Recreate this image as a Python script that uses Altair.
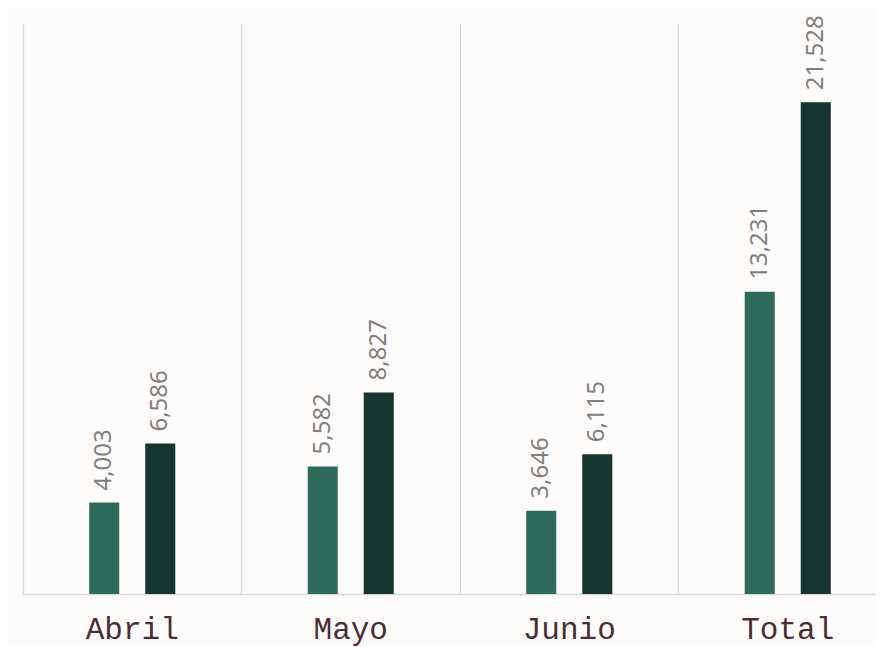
import altair as alt
import pandas as pd

months = ["Abril", "Mayo", "Junio", "Total"]
serie_a = [4003, 5582, 3646, 13231]
serie_b = [6586, 8827, 6115, 21528]
series_names = ["Serie A", "Serie B"]
offset_domain = ["_vacía1", "Serie A", "Serie B", "_vacía2"]
colors = ["#2e6b5b", "#15352e"]

rows = []
for m, a, b in zip(months, serie_a, serie_b):
    rows.append({"mes": m, "serie": series_names[0], "valor": a})
    rows.append({"mes": m, "serie": series_names[1], "valor": b})
df = pd.DataFrame(rows)

x_enc = alt.X(
    "mes:N",
    sort=months,
    scale=alt.Scale(domain=months, range=[0, 874], paddingInner=0, paddingOuter=0),
    axis=alt.Axis(
        title=None,
        labelAngle=0,
        labelFont="Liberation Mono",
        labelFontSize=31,
        labelColor="#4d2c36",
        labelPadding=20,
        ticks=False,
        grid=True,
        gridColor="#d9d9d9",
        gridWidth=1.3,
        domainColor="#d9d9d9",
        domainWidth=1.5,
        bandPosition=0,
    ),
)
xoff_enc = alt.XOffset(
    "serie:N",
    scale=alt.Scale(domain=offset_domain, paddingInner=0.464, paddingOuter=0.182),
)
y_enc = alt.Y(
    "valor:Q",
    scale=alt.Scale(domain=[0, 25000], nice=False, zero=True),
    axis=None,
)

bars = alt.Chart(df).mark_bar().encode(
    x=x_enc,
    xOffset=xoff_enc,
    y=y_enc,
    color=alt.Color(
        "serie:N",
        scale=alt.Scale(domain=series_names, range=colors),
        legend=None,
    ),
)

labels = alt.Chart(df).mark_text(
    angle=270,
    align="left",
    baseline="middle",
    dx=12,
    font="Noto Sans",
    fontSize=24,
    color="#7f7f7f",
).encode(
    x=x_enc,
    xOffset=xoff_enc,
    y=y_enc,
    text=alt.Text("valor:Q", format=","),
)

chart = (
    alt.layer(bars, labels)
    .properties(
        width=853,
        height=571,
        background="#fdfcfa",
        padding={"left": 15, "top": 15, "right": 0, "bottom": 52},
        autosize=alt.AutoSizeParams(type="none"),
    )
    .configure_view(stroke=None)
)

chart.save("out.html", embed_options={"renderer": "svg", "actions": False})
